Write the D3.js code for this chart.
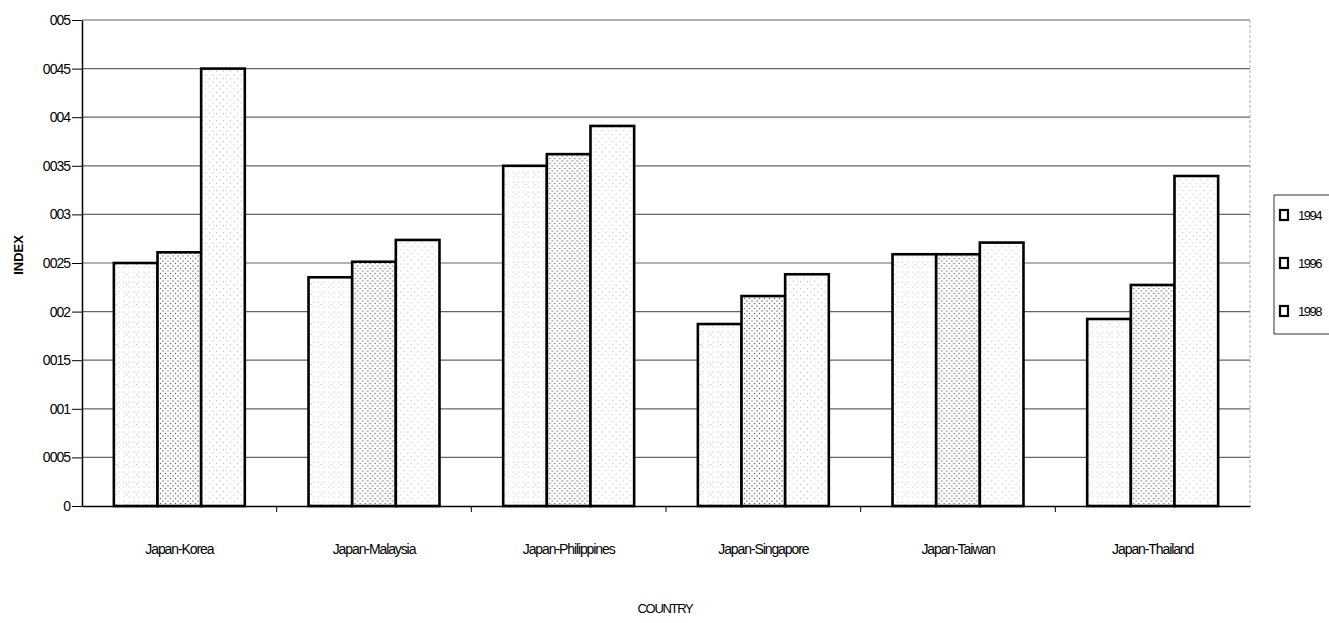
<!DOCTYPE html>
<html>
<head>
<meta charset="utf-8">
<script src="https://cdn.jsdelivr.net/npm/d3@7"></script>
<style>
    body { margin: 0; background: #fff; }
    svg { display: block; font-family: "Liberation Sans", Arial, sans-serif; }
    .axis path, .axis line { stroke: #000; }
    .axis text { fill: #000; }
</style>
</head>
<body>
<svg id="chart" width="1329" height="623"></svg>
<script>
const countries = ["Japan-Korea", "Japan-Malaysia", "Japan-Philippines",
    "Japan-Singapore", "Japan-Taiwan", "Japan-Thailand"];
const years = ["1994", "1996", "1998"];
const values1994 = [0.0250, 0.02353, 0.0350, 0.01872, 0.0259, 0.01924];
const values1996 = [0.0261, 0.02513, 0.0362, 0.0216, 0.0259, 0.02274];
const values1998 = [0.0450, 0.02737, 0.0391, 0.02384, 0.0271, 0.03395];
const yTicks = [0, 0.005, 0.01, 0.015, 0.02, 0.025, 0.03, 0.035, 0.04, 0.045, 0.05];
const yTickLabels = ["0", "0005", "001", "0015", "002", "0025", "003", "0035", "004", "0045", "005"];

const seriesByYear = { "1994": values1994, "1996": values1996, "1998": values1998 };
const table = countries.map((c, i) => ({
    country: c,
    bars: years.map(y => ({ year: y, value: seriesByYear[y][i] }))
}));

const plotLeft = 82, plotRight = 1250, plotTop = 20, plotBottom = 506;
const svg = d3.select("#chart");

// fill patterns, like the old spreadsheet dot fills
const defs = svg.append("defs");
function dotPattern(id, size, dots, color, r) {
    const p = defs.append("pattern")
        .attr("id", id)
        .attr("patternUnits", "userSpaceOnUse")
        .attr("width", size).attr("height", size);
    p.append("rect").attr("width", size).attr("height", size).attr("fill", "#fff");
    dots.forEach(d => p.append("circle")
        .attr("cx", d[0]).attr("cy", d[1]).attr("r", r).attr("fill", color));
}
dotPattern("pat1994", 10, [[2, 2], [7, 7], [7, 2], [2, 7], [4.5, 4.5]], "#b0b0b0", 0.6);
dotPattern("pat1996", 5, [[1, 1], [3.5, 3.5]], "#6a6a6a", 0.75);
dotPattern("pat1998", 7, [[1.5, 1.5], [5, 5]], "#c4c4c4", 0.65);
const fills = { "1994": "url(#pat1994)", "1996": "url(#pat1996)", "1998": "url(#pat1998)" };

const x0 = d3.scaleBand().domain(countries).range([plotLeft, plotRight]);
const x1 = d3.scaleBand().domain(years).range([0, x0.bandwidth()]).paddingOuter(0.73);
const y = d3.scaleLinear().domain([0, 0.05]).range([plotBottom, plotTop]);

// gridlines
svg.append("g")
    .selectAll("line")
    .data(yTicks.slice(1))
    .join("line")
    .attr("x1", plotLeft).attr("x2", plotRight)
    .attr("y1", d => y(d)).attr("y2", d => y(d))
    .attr("stroke", "#666").attr("stroke-width", 1.2);

// dashed right edge of the plot
svg.append("line")
    .attr("x1", plotRight).attr("x2", plotRight)
    .attr("y1", plotTop).attr("y2", plotBottom)
    .attr("stroke", "#aaa").attr("stroke-dasharray", "3,2");

// bars
const groups = svg.append("g")
    .selectAll("g")
    .data(table)
    .join("g")
    .attr("transform", d => `translate(${x0(d.country)},0)`);

groups.selectAll("rect")
    .data(d => d.bars)
    .join("rect")
    .attr("x", d => x1(d.year))
    .attr("width", x1.bandwidth())
    .attr("y", d => y(d.value))
    .attr("height", d => y(0) - y(d.value))
    .attr("fill", d => fills[d.year])
    .attr("stroke", "#000")
    .attr("stroke-width", 2.6);

// y axis
const yAxis = svg.append("g")
    .attr("class", "axis")
    .attr("transform", `translate(${plotLeft},0)`)
    .call(d3.axisLeft(y).tickValues(yTicks)
        .tickFormat((d, i) => yTickLabels[i]).tickSize(10).tickSizeOuter(0));
yAxis.select(".domain").attr("stroke-width", 1.5);
yAxis.selectAll("text")
    .attr("x", -12)
    .style("font-size", "14px")
    .style("letter-spacing", "-1px");

// x axis
const xAxis = svg.append("g")
    .attr("class", "axis")
    .attr("transform", `translate(0,${plotBottom})`)
    .call(d3.axisBottom(x0).tickSize(0).tickSizeOuter(0));
xAxis.select(".domain").attr("stroke-width", 1.5);
xAxis.selectAll("text")
    .attr("dy", 0)
    .attr("y", 48)
    .style("font-size", "14px")
    .style("letter-spacing", "-1.1px");
// boundary ticks between categories
xAxis.append("g")
    .selectAll("line")
    .data(countries.slice(1))
    .join("line")
    .attr("x1", d => x0(d)).attr("x2", d => x0(d))
    .attr("y1", 0).attr("y2", 6)
    .attr("stroke", "#000");

// axis titles
svg.append("text")
    .attr("transform", "translate(23,255) rotate(-90)")
    .attr("text-anchor", "middle")
    .style("font-size", "13px")
    .style("font-weight", "bold")
    .text("INDEX");

svg.append("text")
    .attr("x", 665).attr("y", 613)
    .attr("text-anchor", "middle")
    .style("font-size", "13px")
    .style("letter-spacing", "-1.3px")
    .text("COUNTRY");

// legend
const legend = svg.append("g").attr("transform", "translate(1274,195)");
legend.append("path")
    .attr("d", "M60,0H0V139H60")
    .attr("fill", "#fff")
    .attr("stroke", "#333");
const item = legend.selectAll("g.item")
    .data(years)
    .join("g")
    .attr("class", "item")
    .attr("transform", (d, i) => `translate(6,${15 + i * 48})`);
item.append("rect")
    .attr("width", 8).attr("height", 10)
    .attr("fill", "#fff")
    .attr("stroke", "#000").attr("stroke-width", 2.2);
item.append("text")
    .attr("x", 18).attr("y", 10)
    .style("font-size", "13px")
    .style("letter-spacing", "-1.5px")
    .text(d => d);
</script>
</body>
</html>
